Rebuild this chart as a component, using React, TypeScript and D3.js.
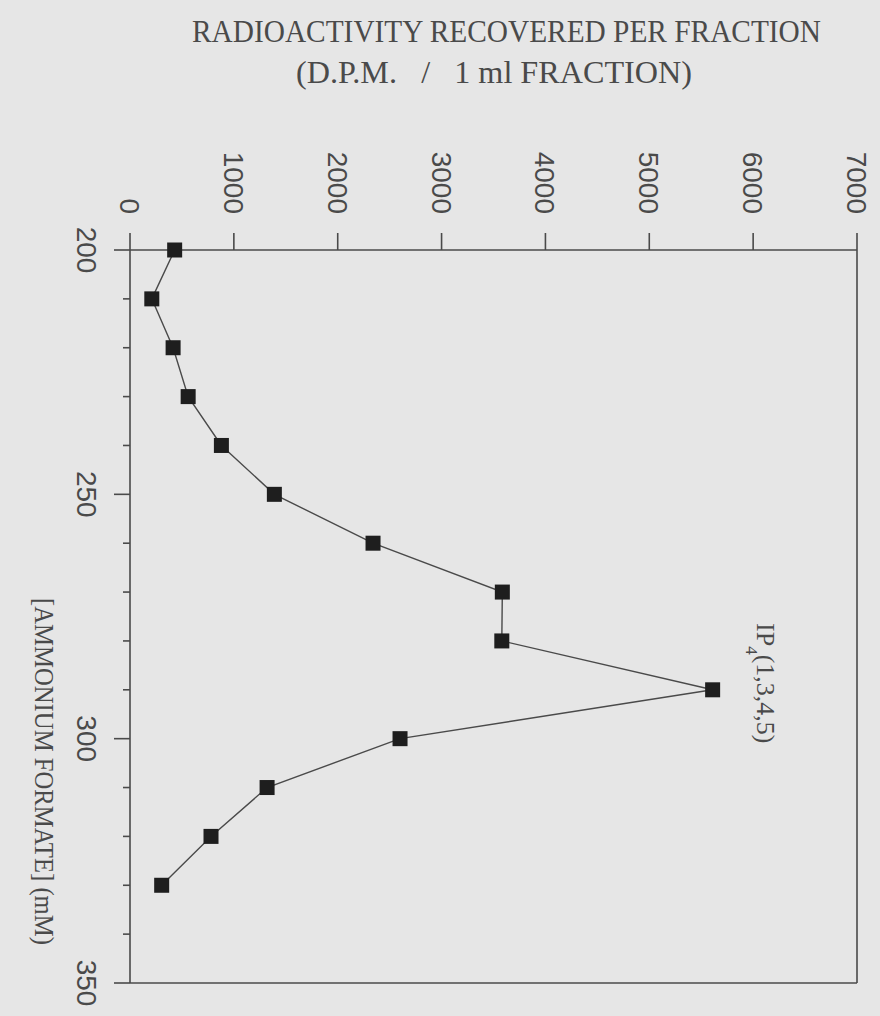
import React from "react";
import * as d3 from "d3";

// Ammonium formate concentration of each 1 ml fraction (mM)
const formateMM = [200, 210, 220, 230, 240, 250, 260, 270, 280, 290, 300, 310, 320, 330];
// Radioactivity recovered per fraction (d.p.m.)
const dpmValues = [430, 210, 415, 560, 880, 1390, 2340, 3585, 3580, 5610, 2600, 1320, 780, 305];

// Axis ticks
const dpmTicks = [0, 1000, 2000, 3000, 4000, 5000, 6000, 7000];
const formateTicks = d3.range(200, 351, 10);
const formateLabels = [200, 250, 300, 350];

const W = 880;
const H = 1016;

const INK = "#4a4a4a";
const PAPER = "#e6e6e6";
const SANS = "'Liberation Sans', Arial, sans-serif";
const SERIF = "'Liberation Serif', 'Times New Roman', serif";

export default function App() {
  // Value axis runs left-to-right across the top, concentration runs top-to-bottom.
  const xDpm = d3.scaleLinear().domain([0, 7000]).range([130, 857]);
  const yMM = d3.scaleLinear().domain([200, 350]).range([250, 983]);

  const pts: [number, number][] = formateMM.map((m, i) => [xDpm(dpmValues[i]), yMM(m)]);
  const linePath = d3.line()(pts) || "";

  const [x0, x1] = xDpm.range();
  const [y0, y1] = yMM.range();
  const box = 15;

  return (
    <svg
      width={W}
      height={H}
      viewBox={`0 0 ${W} ${H}`}
      style={{ position: "absolute", left: 0, top: 0, background: PAPER }}
    >
      <rect x={0} y={0} width={W} height={H} fill={PAPER} />

      {/* Title */}
      <text
        x={192}
        y={42}
        fontFamily={SERIF}
        fontSize={31}
        fill={INK}
        textLength={629}
        lengthAdjust="spacingAndGlyphs"
      >
        RADIOACTIVITY RECOVERED PER FRACTION
      </text>
      <text
        x={296}
        y={83}
        fontFamily={SERIF}
        fontSize={31}
        fill={INK}
        textLength={396}
        lengthAdjust="spacingAndGlyphs"
        style={{ whiteSpace: "pre" }}
      >
        {"(D.P.M.   /   1 ml FRACTION)"}
      </text>

      {/* Frame */}
      <g stroke={INK} strokeWidth={1.6} fill="none">
        <line x1={x0} y1={y0} x2={x1} y2={y0} />
        <line x1={x1} y1={y0} x2={x1} y2={y1} />
        <line x1={x0} y1={y1} x2={x1} y2={y1} />
        <line x1={x0} y1={y0} x2={x0} y2={y1} />
      </g>

      {/* Top ticks and labels (d.p.m.) */}
      <g stroke={INK} strokeWidth={1.6}>
        {dpmTicks.map((t) => (
          <line key={t} x1={xDpm(t)} y1={y0} x2={xDpm(t)} y2={y0 - 17} />
        ))}
      </g>
      {dpmTicks.map((t) => (
        <text
          key={t}
          transform={`translate(${xDpm(t) - 10},214) rotate(90)`}
          fontFamily={SANS}
          fontSize={28}
          fill={INK}
          textAnchor="end"
        >
          {t}
        </text>
      ))}

      {/* Left ticks and labels (mM) */}
      <g stroke={INK} strokeWidth={1.6}>
        {formateTicks.map((t) => (
          <line
            key={t}
            x1={x0}
            y1={yMM(t)}
            x2={x0 - (t % 50 === 0 ? 16 : 7)}
            y2={yMM(t)}
          />
        ))}
      </g>
      {formateLabels.map((t) => (
        <text
          key={t}
          transform={`translate(77,${yMM(t)}) rotate(90)`}
          fontFamily={SANS}
          fontSize={28}
          fill={INK}
          textAnchor="middle"
        >
          {t}
        </text>
      ))}

      {/* Axis title */}
      <text
        transform={`translate(35,598) rotate(90)`}
        fontFamily={SERIF}
        fontSize={27}
        fill={INK}
        textLength={347}
        lengthAdjust="spacingAndGlyphs"
      >
        [AMMONIUM FORMATE] (mM)
      </text>

      {/* Elution profile */}
      <path d={linePath} fill="none" stroke={INK} strokeWidth={1.4} />
      {pts.map(([px, py], i) => (
        <rect
          key={i}
          x={px - box / 2}
          y={py - box / 2}
          width={box}
          height={box}
          fill="#1e1e1e"
        />
      ))}

      {/* Peak annotation */}
      <text
        transform={`translate(757,623) rotate(90)`}
        fontFamily={SERIF}
        fontSize={26}
        fill={INK}
      >
        IP
        <tspan fontSize={17} dy={11}>4</tspan>
        <tspan dy={-11}>(1,3,4,5)</tspan>
      </text>
    </svg>
  );
}
